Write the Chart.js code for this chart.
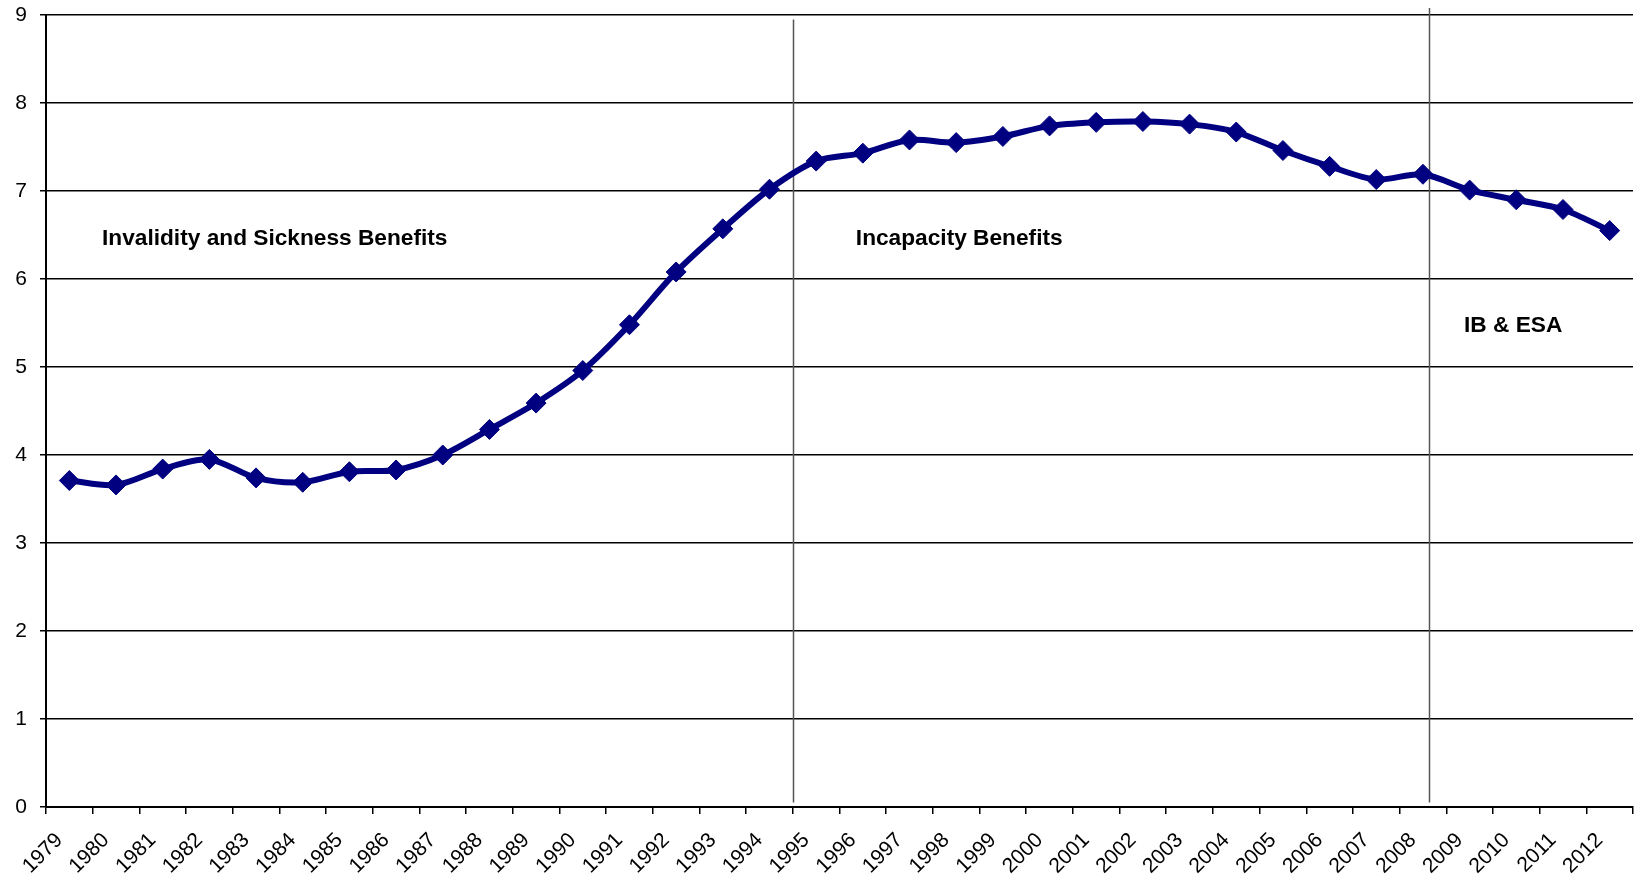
<!DOCTYPE html>
<html>
<head>
<meta charset="utf-8">
<script src="https://cdn.jsdelivr.net/npm/chart.js@4"></script>
<style>
  html, body { margin: 0; padding: 0; background: #fff; }
  #wrap { width: 1635px; height: 884px; }
</style>
</head>
<body>
<div id="wrap"><canvas id="chart" width="1635" height="884"></canvas></div>
<script>
// years on the category axis
var years = ['1979', '1980', '1981', '1982', '1983', '1984', '1985', '1986', '1987', '1988',
  '1989', '1990', '1991', '1992', '1993', '1994', '1995', '1996', '1997', '1998',
  '1999', '2000', '2001', '2002', '2003', '2004', '2005', '2006', '2007', '2008',
  '2009', '2010', '2011', '2012'];

// values
var values = [3.71, 3.66, 3.84, 3.95, 3.74, 3.69, 3.81, 3.83, 4.00, 4.29,
  4.59, 4.96, 5.48, 6.08, 6.57, 7.02, 7.34, 7.43, 7.58, 7.55,
  7.62, 7.74, 7.78, 7.79, 7.76, 7.67, 7.46, 7.28, 7.13, 7.19,
  7.01, 6.90, 6.79, 6.55];

var yTicks = [0, 1, 2, 3, 4, 5, 6, 7, 8, 9];

// regime change markers (category index) and annotation texts
var dividers = [
  { x: 15.5, top: 8.95 },
  { x: 29.14, top: 9.08 }
];
var notes = [
  { text: 'Invalidity and Sickness Benefits', x: 0.7, y: 6.46 },
  { text: 'Incapacity Benefits', x: 16.85, y: 6.46 },
  { text: 'IB & ESA', x: 29.88, y: 5.47 }
];

var overlay = {
  id: 'overlay',
  beforeDatasetsDraw: function(chart) {
    var c = chart.ctx, xs = chart.scales.x, ys = chart.scales.y;
    c.save();
    c.strokeStyle = '#555';
    c.lineWidth = 1.5;
    dividers.forEach(function(d) {
      var px = Math.round(xs.getPixelForValue(d.x)) + 0.5;
      c.beginPath();
      c.moveTo(px, ys.getPixelForValue(d.top));
      c.lineTo(px, ys.getPixelForValue(0.05));
      c.stroke();
    });
    c.fillStyle = '#000';
    c.font = 'bold 22.7px "Liberation Sans", Arial, sans-serif';
    c.textBaseline = 'middle';
    c.textAlign = 'left';
    notes.forEach(function(n) {
      c.fillText(n.text, xs.getPixelForValue(n.x), ys.getPixelForValue(n.y));
    });
    c.restore();
  }
};

new Chart(document.getElementById('chart'), {
  type: 'line',
  data: {
    labels: years,
    datasets: [{
      data: values,
      borderColor: '#000080',
      backgroundColor: '#000080',
      borderWidth: 6,
      pointStyle: 'rectRot',
      pointRadius: 10,
      pointBorderWidth: 1,
      pointBorderColor: '#000080',
      pointBackgroundColor: '#000080',
      tension: 0.3,
      fill: false
    }]
  },
  options: {
    responsive: false,
    animation: false,
    layout: { autoPadding: false, padding: { top: 15, right: 2, left: 0, bottom: 0 } },
    plugins: { legend: { display: false }, tooltip: { enabled: false } },
    scales: {
      x: {
        offset: true,
        afterFit: function(s) { s.height = 77; s.paddingLeft = 0; s.paddingRight = 0; },
        grid: { offset: true, drawOnChartArea: false, drawTicks: true, tickLength: 7, color: '#000', lineWidth: 1.5 },
        border: { color: '#000', width: 2 },
        ticks: {
          autoSkip: false, maxRotation: 45, minRotation: 45, padding: 14, labelOffset: -10,
          color: '#000', font: { family: '"Liberation Sans", Arial, sans-serif', size: 21 }
        }
      },
      y: {
        min: 0, max: 9,
        afterFit: function(s) { s.width = 46; s.paddingTop = 0; s.paddingBottom = 0; },
        afterBuildTicks: function(s) { s.ticks = yTicks.map(function(v) { return { value: v }; }); },
        grid: { color: '#000', lineWidth: 1.5, tickLength: 6 },
        border: { color: '#000', width: 2 },
        ticks: {
          padding: 13, color: '#000',
          font: { family: '"Liberation Sans", Arial, sans-serif', size: 21 }
        }
      }
    }
  },
  plugins: [overlay]
});
</script>
</body>
</html>
